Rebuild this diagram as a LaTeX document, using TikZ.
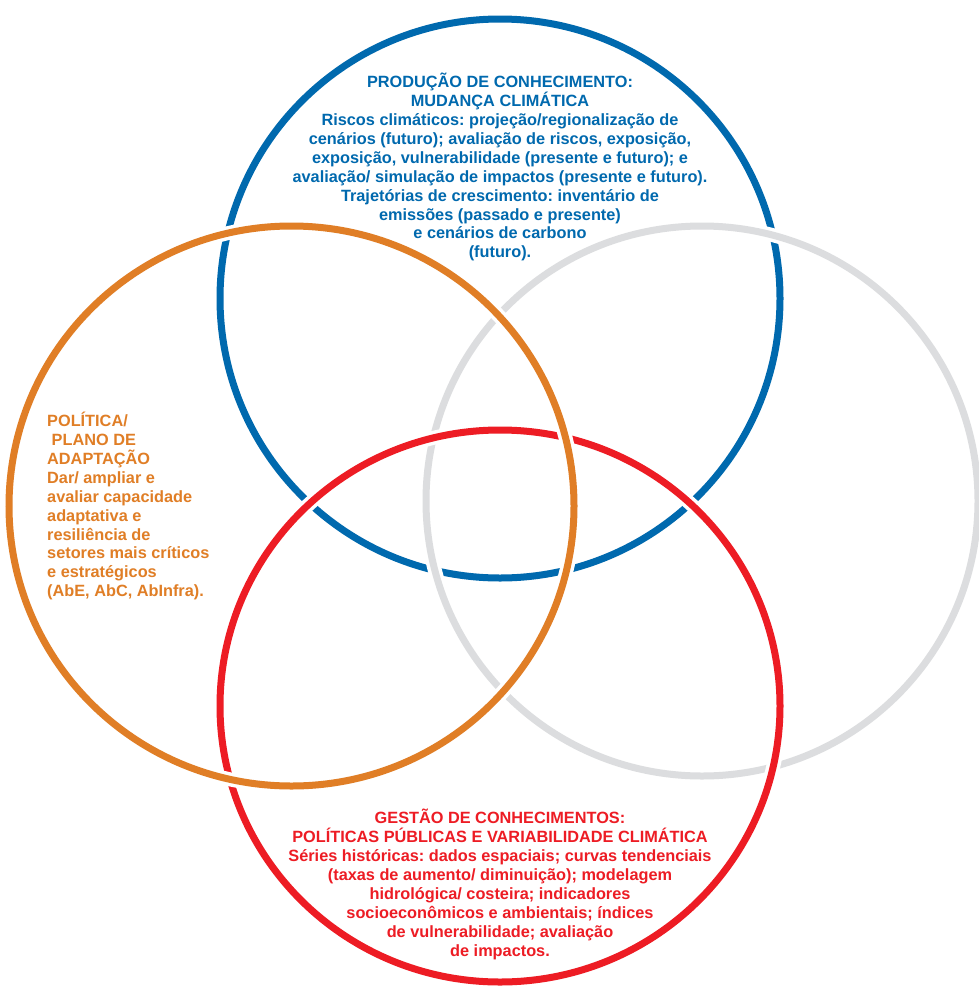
\documentclass[tikz,border=0pt]{standalone}
\usepackage{fontspec}
\setmainfont{Liberation Sans}
\frenchspacing
\definecolor{cblue}{HTML}{0069AE}
\definecolor{corange}{HTML}{E07E26}
\definecolor{cgray}{HTML}{DCDDDF}
\definecolor{cred}{HTML}{ED1C24}
\tikzset{
  ring/.style={line width=7pt},
  casing/.style={line width=14pt, white},
  txt/.style={inner sep=0pt, font=\fontsize{16.3}{18.9}\selectfont\bfseries\frenchspacing},
}
\begin{document}
\begin{tikzpicture}[x=1pt,y=-1pt]
\useasboundingbox[fill=white] (0,0) rectangle (979,988);
% blue (bottom-most)
\draw[ring,cblue] (500,298.5) ellipse [x radius=280, y radius=279.5];
% gray
\draw[casing] (702,501) ellipse [x radius=276, y radius=275];
\draw[ring,cgray] (702,501) ellipse [x radius=276, y radius=275];
% red
\draw[casing] (500,706) ellipse [x radius=280, y radius=276];
\draw[ring,cred] (500,706) ellipse [x radius=280, y radius=276];
% orange (top-most)
\draw[casing] (291.5,506) ellipse [x radius=282.5, y radius=280];
\draw[ring,corange] (291.5,506) ellipse [x radius=282.5, y radius=280];

\node[txt, text=cblue, align=center, anchor=north] (tblue) at (500,73) {%
PRODUÇÃO DE CONHECIMENTO:\\
MUDANÇA CLIMÁTICA\\
Riscos climáticos: projeção/regionalização de\\
cenários (futuro); avaliação de riscos, exposição,\\
exposição, vulnerabilidade (presente e futuro); e\\
avaliação/ simulação de impactos (presente e futuro).\\
Trajetórias de crescimento: inventário de\\
emissões (passado e presente)\\
e cenários de carbono\\
(futuro).};

\node[txt, text=corange, align=left, anchor=north west] (torange) at (47,412) {%
POLÍTICA/\\
\ PLANO DE\\
ADAPTAÇÃO\\
Dar/ ampliar e\\
avaliar capacidade\\
adaptativa e\\
resiliência de\\
setores mais críticos\\
e estratégicos\\
(AbE, AbC, AbInfra).};

\node[txt, text=cred, align=center, anchor=north] (tred) at (500,809) {%
GESTÃO DE CONHECIMENTOS:\\
POLÍTICAS PÚBLICAS E VARIABILIDADE CLIMÁTICA\\
Séries históricas: dados espaciais; curvas tendenciais\\
(taxas de aumento/ diminuição); modelagem\\
hidrológica/ costeira; indicadores\\
socioeconômicos e ambientais; índices\\
de vulnerabilidade; avaliação\\
de impactos.};
\end{tikzpicture}
\end{document}
